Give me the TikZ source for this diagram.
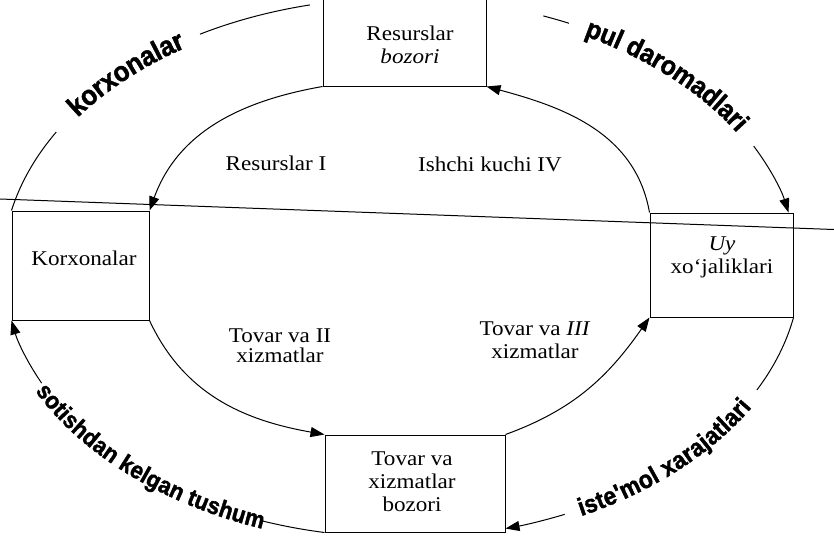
\documentclass[tikz,border=0pt]{standalone}
\usepackage{fontspec}
\setmainfont{Liberation Serif}[FakeStretch=1.1]
\newfontfamily\myarcfam{Liberation Sans}[FakeStretch=0.92,BoldFeatures={FakeBold=1.5}]
\usetikzlibrary{arrows.meta,decorations.text}
\begin{document}
\begin{tikzpicture}[x=1pt,y=1pt,line width=1pt,
  box/.style={draw,rectangle,inner sep=0pt},
  lbl/.style={font=\fontsize{21}{23}\selectfont,align=center,inner sep=0pt},
  tip/.style={-{Triangle[length=14pt,width=10pt]}},
  rtip/.style={{Triangle[length=14pt,width=10pt]}-},
  ell/.style={x radius=400pt,y radius=270pt},
  arctext/.style 2 args={decorate,decoration={text along path,text align=center,raise=-7pt,
    text format delimiters={|}{|},text={|\myarcfam\bfseries\fontsize{#1}{#1}\selectfont|#2}}}]
\useasboundingbox (0,0) rectangle (834,-539);
\fill[white] (0,0) rectangle (834,-539);

% boxes
\node[box,minimum width=163pt,minimum height=90pt] (res) at (404.5,-41) {};
\node[box,minimum width=137pt,minimum height=109pt] (kor) at (80.5,-265.5) {};
\node[box,minimum width=143pt,minimum height=104pt] (uy) at (721.5,-265) {};
\node[box,minimum width=180pt,minimum height=97pt] (bot) at (415,-483.5) {};

% box texts
\node[lbl] (resT) at (410,-45) {Resurslar\\\textit{bozori}};
\node[lbl] (korT) at (84,-258) {Korxonalar};
\node[lbl] (uyT) at (722,-257) {\textit{Uy}\\xo‘jaliklari};
\node[lbl] (botT) at (412,-482) {Tovar va\\xizmatlar\\bozori};

% flow labels
\node[lbl] (rI) at (276,-163) {Resurslar I};
\node[lbl] (iv) at (490,-164) {Ishchi kuchi IV};
\node[lbl,font=\fontsize{21}{20}\selectfont] (tII) at (280,-346) {Tovar va II\\xizmatlar};
\node[lbl] (tIII) at (535,-340) {Tovar va \textit{III}\\xizmatlar};

% straight line across
\draw (0,-199) -- (834,-229.5);

% inner flows
\draw[tip] (res.south west) to[out=190,in=70] (kor.north east);
\draw[tip] (uy.north west) to[out=100,in=-15] (res.south east);
\draw[tip] (kor.south east) to[out=-65,in=170] (bot.north west);
\draw[tip] (bot.north east) to[out=20,in=235] (uy.south west);

% outer flows
\begin{scope}[shift={(400,-268)}]
\draw (103:400pt and 270pt) arc[ell,start angle=103,end angle=120];
\path[arctext={28}{korxonalar}] (147:400pt and 270pt) arc[ell,start angle=147,end angle=121];
\draw (kor.north west) arc[ell,start angle=167.9,end angle=150];

\draw (69:400pt and 270pt) arc[ell,start angle=69,end angle=65];
\path[arctext={27}{pul daromadlari}] (64:400pt and 270pt) arc[ell,start angle=64,end angle=29];
\draw[rtip] ([xshift=-5pt]uy.north east) arc[ell,start angle=12,end angle=27];

\draw[rtip] (kor.south west) arc[ell,start angle=191,end angle=205];
\path[arctext={24}{sotishdan kelgan tushum}] (205:400pt and 270pt) arc[ell,start angle=205,end angle=251];
\draw (bot.south west) arc[ell,start angle=259.2,end angle=250];

\draw (uy.south east) arc[ell,start angle=349.3,end angle=333];
\path[arctext={25}{iste'mol xarajatlari}] (295:400pt and 270pt) arc[ell,start angle=295,end angle=332];
\draw[rtip] ([yshift=4pt]bot.south east) arc[ell,start angle=285,end angle=294];
\end{scope}
\end{tikzpicture}
\end{document}
